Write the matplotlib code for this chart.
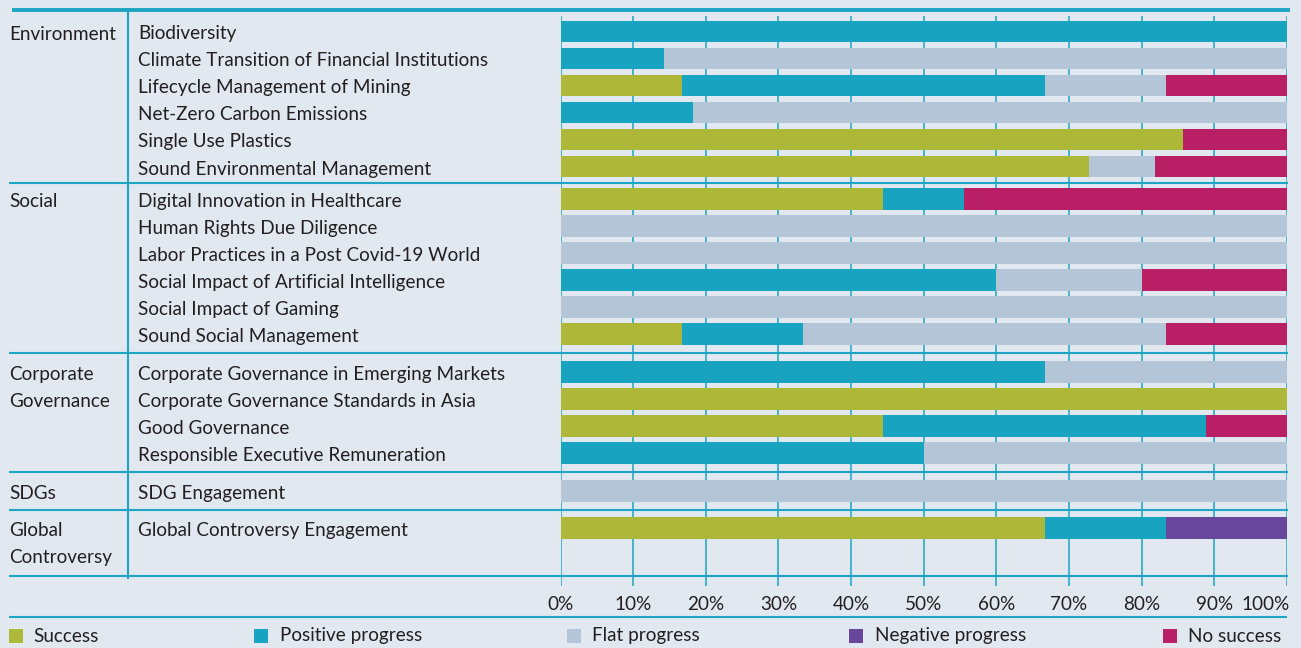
import matplotlib
matplotlib.use("Agg")
import matplotlib.pyplot as plt
from matplotlib.patches import Rectangle
import matplotlib.transforms as mtransforms
import numpy as np

# ---------------- data ----------------
groups = ["Environment", "Social", "Corporate\nGovernance", "SDGs", "Global\nControversy"]
group_sizes = [6, 6, 4, 1, 1]
themes = [
    "Biodiversity",
    "Climate Transition of Financial Institutions",
    "Lifecycle Management of Mining",
    "Net-Zero Carbon Emissions",
    "Single Use Plastics",
    "Sound Environmental Management",
    "Digital Innovation in Healthcare",
    "Human Rights Due Diligence",
    "Labor Practices in a Post Covid-19 World",
    "Social Impact of Artificial Intelligence",
    "Social Impact of Gaming",
    "Sound Social Management",
    "Corporate Governance in Emerging Markets",
    "Corporate Governance Standards in Asia",
    "Good Governance",
    "Responsible Executive Remuneration",
    "SDG Engagement",
    "Global Controversy Engagement",
]
series_names = ["Success", "Positive progress", "Flat progress", "Negative progress", "No success"]
success    = [0, 0, 16.7, 0, 85.7, 72.7, 44.4, 0, 0, 0, 0, 16.7, 0, 100, 44.4, 0, 0, 66.7]
positive   = [100, 14.3, 50, 18.2, 0, 0, 11.1, 0, 0, 60, 0, 16.7, 66.7, 0, 44.5, 50, 0, 16.7]
flat       = [0, 85.7, 16.7, 81.8, 0, 9.1, 0, 100, 100, 20, 100, 50, 33.3, 0, 0, 50, 100, 0]
negative   = [0, 0, 0, 0, 0, 0, 0, 0, 0, 0, 0, 0, 0, 0, 0, 0, 0, 16.7]
no_success = [0, 0, 16.7, 0, 14.3, 18.2, 44.5, 0, 0, 20, 0, 16.7, 0, 0, 11.1, 0, 0, 0]
xtick_values = [0, 10, 20, 30, 40, 50, 60, 70, 80, 90, 100]
xtick_labels = ["0%", "10%", "20%", "30%", "40%", "50%", "60%", "70%", "80%", "90%", "100%"]

# ---------------- style ----------------
colors = ["#adb838", "#18a3c0", "#b4c5d7", "#68469b", "#b81f64"]
BG = "#e1e8f0"
LINE = "#1ea5c3"
TXT = "#231f20"
FONT = ["Lato", "DejaVu Sans"]
plt.rcParams["font.family"] = FONT

W, H = 1301, 648
fig = plt.figure(figsize=(W / 100, H / 100), dpi=100, facecolor=BG)

# overlay axes in pixel coordinates for the table frame and text
fax = fig.add_axes([0, 0, 1, 1], zorder=3)
fax.set_xlim(0, W)
fax.set_ylim(H, 0)
fax.axis("off")
fax.patch.set_alpha(0)

# layout of rows (pixels)
pitch = 27.0
first = 31.5
extra_gap = [5.5, 11, 11, 10]
centers = []
y = first
group_first = []
group_last = []
for gi, n in enumerate(group_sizes):
    if gi > 0:
        y += pitch + extra_gap[gi - 1]
    group_first.append(y)
    for k in range(n):
        if k > 0:
            y += pitch
        centers.append(y)
    group_last.append(y)
centers = np.array(centers)
bar_h = 21.7

grid_top, grid_bot = 16, 586
x0_px, x1_px = 560.5, 1287.0

# bar axes
bax = fig.add_axes([x0_px / W, 1 - grid_bot / H, (x1_px - x0_px) / W, (grid_bot - grid_top) / H], zorder=2)
bax.set_facecolor("none")
bax.set_xlim(0, 100)
bax.set_ylim(grid_bot, grid_top)
for s in bax.spines.values():
    s.set_visible(False)
bax.set_yticks([])
bax.set_xticks(xtick_values)
bax.set_xticklabels(xtick_labels)
bax.tick_params(axis="x", length=0, pad=7, labelsize=12.5, labelcolor=TXT)
bax.xaxis.grid(True, color=LINE, linewidth=1.1)
bax.set_axisbelow(True)

left = np.zeros(len(themes))
for vals, col in zip([success, positive, flat, negative, no_success], colors):
    v = np.array(vals, dtype=float)
    bax.barh(centers, v, left=left, height=bar_h, color=col, linewidth=0, zorder=2)
    left += v

# frame lines
fax.plot([12, 1290], [10.0, 10.0], color=LINE, lw=2.8, solid_capstyle="butt")
seps = [(group_last[i] + group_first[i + 1]) / 2 for i in range(len(groups) - 1)]
bottom_sep = group_last[-1] + 48
for s in seps + [bottom_sep]:
    fax.plot([9, 1288], [s, s], color=LINE, lw=1.5, solid_capstyle="butt")
fax.plot([128.3, 128.3], [10.0, bottom_sep + 2], color=LINE, lw=1.5)
fax.plot([9, 1287], [616.5, 616.5], color=LINE, lw=1.5, solid_capstyle="butt")

texts = []
dy = 2.5
# item labels
for t, yc in zip(themes, centers):
    texts.append(fax.text(138, yc + dy, t, ha="left", va="center", fontsize=12.5, color=TXT))
# group labels
for g, yg in zip(groups, group_first):
    for li, line in enumerate(g.split("\n")):
        texts.append(fax.text(9, yg + dy + li * pitch, line, ha="left", va="center", fontsize=12.5, color=TXT))

# legend
leg_marker_x = [9, 254, 567, 849, 1163]
leg_text_x = [33, 280, 592, 875, 1188]
leg_y = 636
for name, col, mx, tx in zip(series_names, colors, leg_marker_x, leg_text_x):
    fax.add_patch(Rectangle((mx, leg_y - 7), 14, 14, facecolor=col, edgecolor="none"))
    texts.append(fax.text(tx, leg_y, name, ha="left", va="center", fontsize=12.5, color=TXT))

# fit font size so that the longest label roughly matches the reference width
fig.canvas.draw()
r = fig.canvas.get_renderer()
ref = texts[1].get_window_extent(r).width
scale = 350.0 / ref
for t in texts:
    t.set_fontsize(t.get_fontsize() * scale)
tick_fs = 12.5 * scale
bax.tick_params(axis="x", labelsize=tick_fs)
fig.canvas.draw()
labels = bax.get_xticklabels()
labels[-1].set_horizontalalignment("right")
labels[-1].set_transform(labels[-1].get_transform() + mtransforms.ScaledTranslation(3 / 100, 0, fig.dpi_scale_trans))

fig.savefig("out.png", dpi=100, facecolor=BG)
